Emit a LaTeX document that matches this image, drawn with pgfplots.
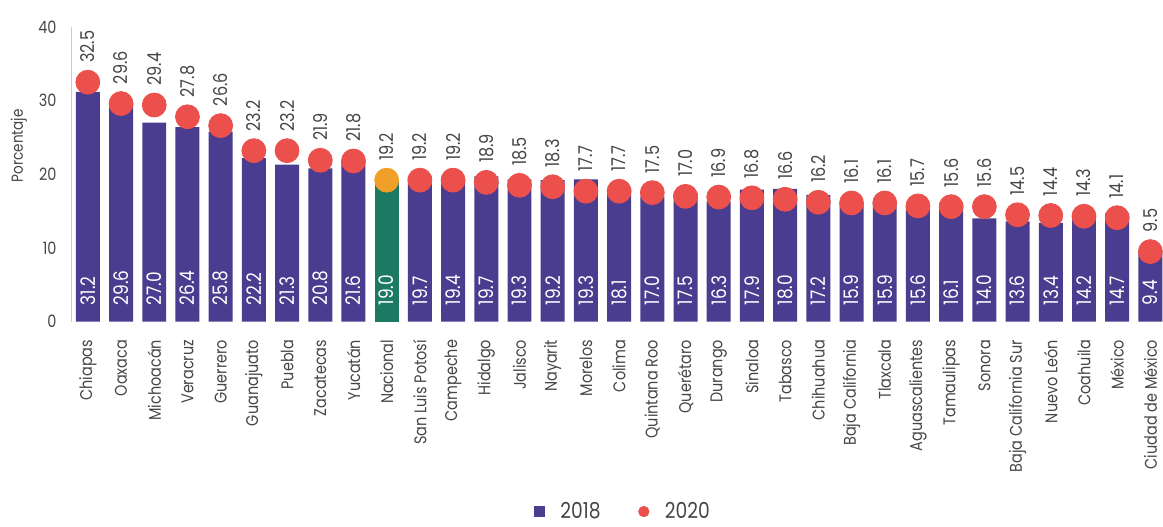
\documentclass[border=0pt]{standalone}
\usepackage{fontspec}
\setmainfont{Poppins}[FakeStretch=0.85]
\usepackage{pgfplots}
\usepackage{pgfplotstable}
\pgfplotsset{compat=1.18}
\definecolor{barpurple}{RGB}{74,60,142}
\definecolor{dotred}{RGB}{236,80,76}
\definecolor{natgreen}{RGB}{28,122,100}
\definecolor{natorange}{RGB}{240,160,40}
\definecolor{labgray}{RGB}{70,70,70}

\pgfplotstableread{
x a b
0 31.2 32.5
1 29.6 29.6
2 27.0 29.4
3 26.4 27.8
4 25.8 26.6
5 22.2 23.2
6 21.3 23.2
7 20.8 21.9
8 21.6 21.8
10 19.7 19.2
11 19.4 19.2
12 19.7 18.9
13 19.3 18.5
14 19.2 18.3
15 19.3 17.7
16 18.1 17.7
17 17.0 17.5
18 17.5 17.0
19 16.3 16.9
20 17.9 16.8
21 18.0 16.6
22 17.2 16.2
23 15.9 16.1
24 15.9 16.1
25 15.6 15.7
26 16.1 15.6
27 14.0 15.6
28 13.6 14.5
29 13.4 14.4
30 14.2 14.3
31 14.7 14.1
32 9.4 9.5
}\datos

\pgfplotstableread{
x a b
9 19.0 19.2
}\nacional

\begin{document}
\begin{tikzpicture}
\begin{axis}[
  scale only axis,
  width=546.3pt, height=147.5pt,
  xmin=-0.48, xmax=32.38,
  ymin=0, ymax=40,
  clip=false,
  axis lines*=left,
  x axis line style={draw=none},
  y axis line style={draw=gray!40, line width=0.5pt},
  major tick length=0pt,
  ytick={0,10,20,30,40},
  /pgf/number format/assume math mode=true,
  yticklabel style={font=\fontsize{8.5}{10}\selectfont, text=labgray, inner sep=0pt, anchor=east, xshift=-7.5pt},
  xtick={0,...,32},
  xticklabels={Chiapas,Oaxaca,Michoacán,Veracruz,Guerrero,Guanajuato,Puebla,Zacatecas,Yucatán,Nacional,San Luis Potosí,Campeche,Hidalgo,Jalisco,Nayarit,Morelos,Colima,Quintana Roo,Querétaro,Durango,Sinaloa,Tabasco,Chihuahua,Baja California,Tlaxcala,Aguascalientes,Tamaulipas,Sonora,Baja California Sur,Nuevo León,Coahuila,México,Ciudad de México},
  xticklabel style={font=\fontsize{8.5}{10}\selectfont, text=labgray, inner sep=0pt, yshift=-9pt, rotate=90, anchor=east},
  ylabel={Porcentaje},
  ylabel style={font=\fontsize{8}{10}\selectfont, text=labgray, at={(axis description cs:-0.0485,0.597)}, anchor=center},
  legend style={at={(axis description cs:0.506,-0.645)}, anchor=center, draw=none, fill=none, legend columns=2,
    font=\fontsize{11}{13}\selectfont, text=labgray, inner sep=0pt,
    /tikz/column 1/.style={column sep=6pt},
    /tikz/column 2/.style={column sep=17pt},
    /tikz/column 3/.style={column sep=6pt}},
]
% 2018 bars
\addplot[ybar, bar width=12pt, bar shift=0pt, fill=barpurple, draw=none, forget plot] table[x=x, y=a]{\datos};
\addplot[ybar, bar width=12pt, bar shift=0pt, fill=natgreen, draw=none, forget plot] table[x=x, y=a]{\nacional};
% 2018 labels inside bars
\addplot[draw=none, mark=none, forget plot, nodes near coords, point meta=explicit symbolic,
  every node near coord/.style={font=\fontsize{10}{12}\selectfont, text=white, inner sep=0pt, yshift=8pt, rotate=90, anchor=west}]
  table[x=x, y expr=0, meta=a]{\datos};
\addplot[draw=none, mark=none, forget plot, nodes near coords, point meta=explicit symbolic,
  every node near coord/.style={font=\fontsize{10}{12}\selectfont, text=white, inner sep=0pt, yshift=8pt, rotate=90, anchor=west}]
  table[x=x, y expr=0, meta=a]{\nacional};
% 2020 circles
\addplot[color=dotred, only marks, mark=*, mark size=6pt, mark options={fill=dotred, draw=dotred}, forget plot,
  nodes near coords, point meta=explicit symbolic,
  every node near coord/.style={font=\fontsize{9.5}{11}\selectfont, text=labgray, inner sep=0pt, yshift=9.5pt, rotate=90, anchor=west}]
  table[x=x, y=b, meta=b]{\datos};
\addplot[color=natorange, only marks, mark=*, mark size=6pt, mark options={fill=natorange, draw=natorange}, forget plot,
  nodes near coords, point meta=explicit symbolic,
  every node near coord/.style={font=\fontsize{9.5}{11}\selectfont, text=labgray, inner sep=0pt, yshift=9.5pt, rotate=90, anchor=west}]
  table[x=x, y=b, meta=b]{\nacional};
% legend
\addlegendimage{color=barpurple, only marks, mark=square*, mark size=2.6pt, mark options={fill=barpurple, draw=barpurple}}
\addlegendentry{2018}
\addlegendimage{color=dotred, only marks, mark=*, mark size=2.6pt, mark options={fill=dotred, draw=dotred}}
\addlegendentry{2020}
\end{axis}
\pgfresetboundingbox
\path[use as bounding box] ([xshift=-36pt,yshift=13.5pt]current axis.north west) rectangle ([yshift=-102.5pt]current axis.south east);
\end{tikzpicture}
\end{document}
